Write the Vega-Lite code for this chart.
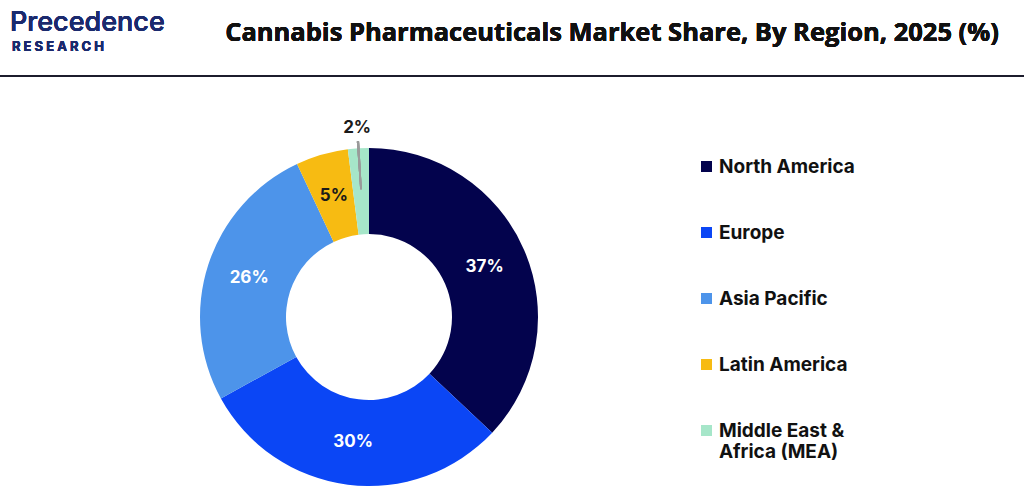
{
  "$schema": "https://vega.github.io/schema/vega-lite/v6.json",
  "autosize": {"type": "none"},
  "width": 340,
  "height": 340,
  "padding": {"left": 199, "top": 147, "right": 485, "bottom": 12},
  "background": "white",
  "data": {
    "values": [
      {"region": "North America", "share": 37, "label": "37%", "ord": 1},
      {"region": "Europe", "share": 30, "label": "30%", "ord": 2},
      {"region": "Asia Pacific", "share": 26, "label": "26%", "ord": 3},
      {"region": "Latin America", "share": 5, "label": "5%", "ord": 4},
      {"region": "Middle East & Africa (MEA)", "share": 2, "label": "2%", "ord": 5}
    ]
  },
  "layer": [
    {
      "mark": {"type": "arc", "outerRadius": 169, "innerRadius": 83},
      "encoding": {
        "theta": {"field": "share", "type": "quantitative", "stack": true},
        "order": {"field": "ord", "type": "quantitative"},
        "color": {
          "field": "region",
          "type": "nominal",
          "scale": {
            "domain": ["North America", "Europe", "Asia Pacific", "Latin America", "Middle East & Africa (MEA)"],
            "range": ["#03034d", "#0b46f5", "#4d94ea", "#f7bb12", "#a6e6c9"]
          },
          "legend": {
            "title": null,
            "orient": "none",
            "legendX": 498,
            "legendY": 10,
            "symbolType": "square",
            "symbolSize": 121,
            "symbolStrokeWidth": 0,
            "labelFont": "Inter",
            "labelFontSize": 19,
            "labelFontWeight": 700,
            "labelColor": "#111111",
            "labelOffset": 3,
            "labelLimit": 300,
            "rowPadding": 46,
            "labelExpr": "datum.label == 'Middle East & Africa (MEA)' ? ['Middle East &', 'Africa (MEA)'] : datum.label"
          }
        }
      }
    },
    {
      "mark": {"type": "arc", "color": "#9a9a9a"},
      "encoding": {
        "theta": {"datum": 98.9},
        "theta2": {"datum": 99.1},
        "radius": {"value": 176},
        "radius2": {"value": 128}
      }
    },
    {
      "mark": {"type": "text", "font": "Inter", "fontSize": 17, "fontWeight": 700, "align": "center", "baseline": "middle", "radius": 126},
      "encoding": {
        "theta": {"field": "share", "type": "quantitative", "stack": true},
        "order": {"field": "ord", "type": "quantitative"},
        "text": {"condition": {"test": "datum.share > 2", "field": "label"}, "value": ""},
        "color": {"condition": {"test": "datum.share <= 5", "value": "#1a1a1a"}, "value": "white"}
      }
    },
    {
      "mark": {"type": "text", "font": "Inter", "fontSize": 17, "fontWeight": 700, "align": "center", "baseline": "middle", "radius": 189, "color": "#1a1a1a"},
      "encoding": {
        "theta": {"field": "share", "type": "quantitative", "stack": true},
        "order": {"field": "ord", "type": "quantitative"},
        "text": {"condition": {"test": "datum.share <= 2", "field": "label"}, "value": ""}
      }
    },
    {
      "mark": {"type": "text", "font": "Open Sans", "fontSize": 25.5, "fontWeight": 700, "align": "center", "baseline": "middle", "color": "#111111"},
      "encoding": {
        "x": {"value": 413},
        "y": {"value": -114},
        "text": {"datum": "Cannabis Pharmaceuticals Market Share, By Region, 2025 (%)"}
      }
    },
    {
      "mark": {"type": "text", "font": "Inter", "fontSize": 27, "fontWeight": 500, "align": "left", "baseline": "alphabetic", "color": "#1b2a6e"},
      "encoding": {
        "x": {"value": -189},
        "y": {"value": -116},
        "text": {"datum": "Precedence"}
      }
    },
    {
      "mark": {"type": "text", "font": "Inter", "fontSize": 13, "fontWeight": 700, "align": "left", "baseline": "middle", "color": "#1b2a6e"},
      "encoding": {
        "x": {"value": -187},
        "y": {"value": -100},
        "text": {"datum": "R   E   S   E   A   R   C   H"}
      }
    },
    {
      "mark": {"type": "rule", "color": "#1c1c2c", "strokeWidth": 2},
      "encoding": {
        "x": {"value": -199},
        "x2": {"value": 825},
        "y": {"value": -71}
      }
    }
  ],
  "config": {"view": {"stroke": null}}
}
